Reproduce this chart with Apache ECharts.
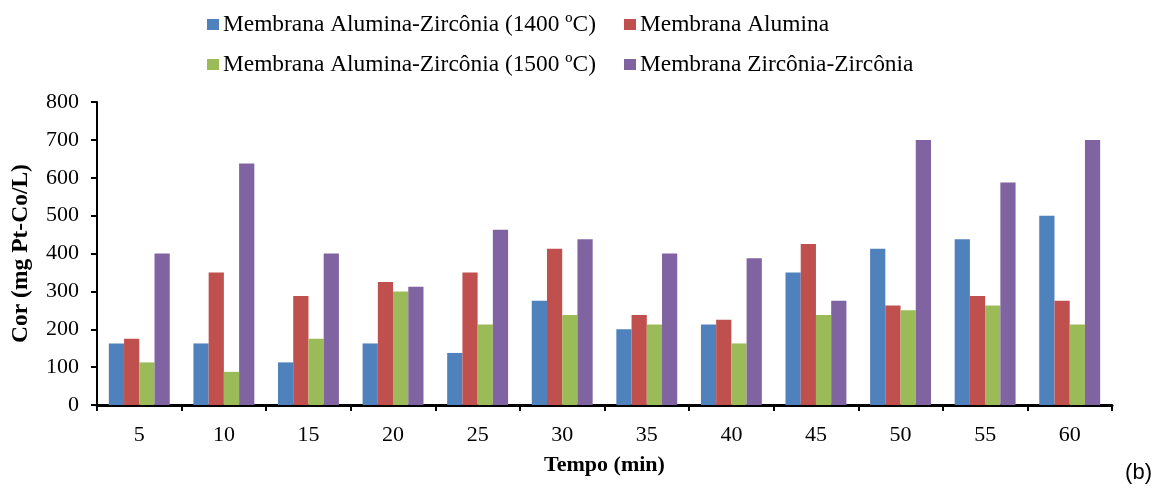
<!DOCTYPE html>
<html>
<head>
    <meta charset="utf-8">
    <script src="https://cdn.jsdelivr.net/npm/echarts@6/dist/echarts.min.js"></script>
    <style>
        body { margin: 0; background: #fff; }
    </style>
</head>
<body>
    <div id="main" style="width: 1156px;height:489px"></div>

    <script type="text/javascript">
        // tempo (min)
        var categories = ['5', '10', '15', '20', '25', '30', '35', '40', '45', '50', '55', '60'];
        var names = [
            'Membrana Alumina-Zircônia (1400 ºC)',
            'Membrana Alumina',
            'Membrana Alumina-Zircônia (1500 ºC)',
            'Membrana Zircônia-Zircônia'
        ];
        var az1400 = [162.5, 162.5, 112.5, 162.5, 137.5, 275, 200, 212.5, 350, 412.5, 437.5, 500];
        var alumina = [175, 350, 287.5, 325, 350, 412.5, 237.5, 225, 425, 262.5, 287.5, 275];
        var az1500 = [112.5, 87.5, 175, 300, 212.5, 237.5, 212.5, 162.5, 237.5, 250, 262.5, 212.5];
        var zz = [400, 637.5, 400, 312.5, 462.5, 437.5, 400, 387.5, 275, 700, 587.5, 700];
        var colors = ['#4F81BD', '#C0504D', '#9BBB59', '#8064A2'];

        var serif = 'Liberation Serif, Times New Roman, serif';
        var myChart = echarts.init(document.getElementById('main'));

        var legendPos = [[202, 8], [619, 8], [202, 48], [619, 48]];
        var legends = [];
        for (var i = 0; i < names.length; i++) {
            legends.push({
                data: [names[i]],
                left: legendPos[i][0],
                top: legendPos[i][1],
                itemWidth: 12,
                itemHeight: 11,
                itemGap: 0,
                icon: 'rect',
                selectedMode: false,
                textStyle: { fontFamily: serif, fontSize: 23.4, color: '#000', padding: [0, 0, 0, -1] }
            });
        }

        var option = {
            animation: false,
            color: colors,
            legend: legends,
            grid: { left: 97, right: 44, top: 102, bottom: 84 },
            xAxis: {
                type: 'category',
                data: categories,
                name: 'Tempo (min)',
                nameLocation: 'middle',
                nameGap: 49,
                nameTextStyle: { fontFamily: serif, fontSize: 22, fontWeight: 'bold', color: '#000' },
                axisLine: { lineStyle: { color: '#000', width: 3 } },
                axisTick: { show: true, length: 6, lineStyle: { color: '#000', width: 2 } },
                axisLabel: { fontFamily: serif, fontSize: 22, color: '#000', margin: 19 }
            },
            yAxis: {
                type: 'value',
                min: 0,
                max: 800,
                interval: 100,
                name: 'Cor (mg Pt-Co/L)',
                nameLocation: 'middle',
                nameGap: 64,
                nameTextStyle: { fontFamily: serif, fontSize: 23.5, fontWeight: 'bold', color: '#000' },
                axisLine: { show: true, lineStyle: { color: '#000', width: 2 } },
                axisTick: { show: true, length: 6, lineStyle: { color: '#000', width: 2 } },
                axisLabel: { fontFamily: serif, fontSize: 22, color: '#000', margin: 18 },
                splitLine: { show: false }
            },
            graphic: [{
                type: 'text',
                right: 4,
                top: 462,
                style: { text: '(b)', font: '22px Liberation Sans, Arial, sans-serif', fill: '#000' }
            }],
            series: [
                { name: names[0], type: 'bar', data: az1400, barGap: '0%', barCategoryGap: '28%' },
                { name: names[1], type: 'bar', data: alumina },
                { name: names[2], type: 'bar', data: az1500 },
                { name: names[3], type: 'bar', data: zz }
            ]
        };

        myChart.setOption(option);
    </script>
</body>
</html>
